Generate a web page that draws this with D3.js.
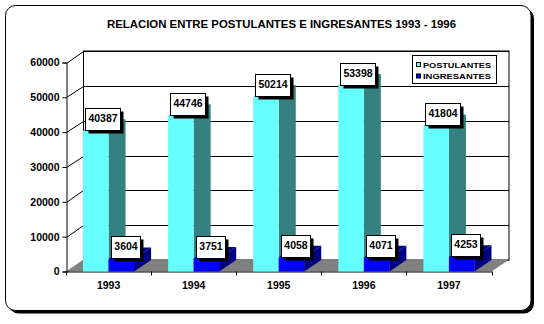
<!DOCTYPE html>
<html><head><meta charset="utf-8">
<script src="https://cdn.jsdelivr.net/npm/d3@7"></script>
<style>body{margin:0;background:#fff}svg{display:block}</style>
</head><body><svg id="c" width="544" height="324"></svg>
<script>
const years = ["1993","1994","1995","1996","1997"];
const postulantes = [40387,44746,50214,53398,41804];
const ingresantes = [3604,3751,4058,4071,4253];
const seriesNames = ["POSTULANTES","INGRESANTES"];
const yTicks = [0,10000,20000,30000,40000,50000,60000];
const title = "RELACION ENTRE POSTULANTES E INGRESANTES 1993 - 1996";

const frontColors = ["#66FFFF","#0000FF"];
const sideColors = ["#358080","#000080"];
const font = "'Liberation Sans', Arial, sans-serif";
const DX = 17, DY = -11.5;

const svg = d3.select("#c");
const x = d3.scaleBand().domain(years).range([66, 491.5]);
const xs = d3.scaleBand().domain(seriesNames).range([x.bandwidth()*0.2, x.bandwidth()*0.8]);
const y = d3.scaleLinear().domain([0,60000]).range([271.5, 62.5]);

// frame
svg.append("rect").attr("x",8.5).attr("y",8.5).attr("width",525.5).attr("height",305)
  .attr("rx",10).attr("fill","#000");
svg.append("rect").attr("x",5.5).attr("y",5.5).attr("width",525.5).attr("height",305)
  .attr("rx",10).attr("fill","#fff").attr("stroke","#000").attr("stroke-width",1);

// title
svg.append("text").attr("x",281.5).attr("y",27.5).attr("text-anchor","middle")
  .attr("font-family",font).attr("font-weight","bold").attr("font-size",11)
  .attr("textLength",349).attr("lengthAdjust","spacingAndGlyphs").text(title);

const g = svg.append("g");
const x0 = x.range()[0], x1 = x.range()[1];
// back wall
g.append("rect").attr("x",x0+DX+0.5).attr("y",y(60000)+DY).attr("width",x1-x0)
  .attr("height",y(0)-y(60000)).attr("fill","#fff").attr("stroke","#000");
// wall gridlines + side diagonals
yTicks.forEach(t=>{
  const yy = Math.round(y(t)+DY)+0.5;
  g.append("line").attr("x1",x0+DX+0.5).attr("x2",x1+DX+0.5).attr("y1",yy).attr("y2",yy)
    .attr("stroke","#000");
  g.append("line").attr("x1",x0+0.5).attr("y1",Math.round(y(t))+0.5)
    .attr("x2",x0+DX+0.5).attr("y2",yy).attr("stroke","#000");
});
// floor
g.append("polygon").attr("points",[[x0,y(0)],[x1,y(0)],[x1+DX,y(0)+DY],[x0+DX,y(0)+DY]].join(" "))
  .attr("fill","#808080");

// y axis (front)
const yAxis = d3.axisLeft(y).tickValues(yTicks).tickSize(4).tickPadding(3).tickFormat(d3.format("d"));
const ya = svg.append("g").attr("transform",`translate(${x0+0.5},0)`).call(yAxis);
ya.select(".domain").attr("stroke","#000");
ya.selectAll("text").attr("font-family",font).attr("font-weight","bold").attr("font-size",10.5).attr("fill","#000");

// x axis
const xAxis = d3.axisBottom(x).tickSize(0).tickPadding(10);
const xa = svg.append("g").attr("transform",`translate(0,${y(0)})`).call(xAxis);
xa.select(".domain").attr("stroke","#000");
xa.selectAll("text").attr("font-family",font).attr("font-weight","bold").attr("font-size",10.5).attr("fill","#000");
years.concat(["end"]).forEach((yr,i)=>{
  const xx = Math.round(x0 + i*x.bandwidth())+0.5;
  xa.append("line").attr("x1",xx).attr("x2",xx).attr("y1",0).attr("y2",4).attr("stroke","#000");
});

// bars
const bars = [];
years.forEach((yr,i)=>{
  [postulantes[i], ingresantes[i]].forEach((v,s)=>{
    const bx = x(yr) + xs(seriesNames[s]);
    const w = xs.bandwidth();
    const yt = y(v), yb = y(0);
    bars.push({bx,w,yt,v});
    const bg = svg.append("g");
    bg.append("polygon").attr("points",[[bx,yt],[bx+w,yt],[bx+w+DX,yt+DY],[bx+DX,yt+DY]].join(" "))
      .attr("fill",sideColors[s]);
    bg.append("polygon").attr("points",[[bx+w,yb],[bx+w,yt],[bx+w+DX,yt+DY],[bx+w+DX,yb+DY]].join(" "))
      .attr("fill",sideColors[s]);
    bg.append("rect").attr("x",bx).attr("y",yt).attr("width",w).attr("height",yb-yt)
      .attr("fill",frontColors[s]);
  });
});

// data labels
bars.forEach(b=>{
  const lg = svg.append("g");
  const t = lg.append("text").attr("font-family",font).attr("font-weight","bold")
    .attr("font-size",10.5).attr("text-anchor","middle").text(String(b.v));
  const tw = t.node().getComputedTextLength();
  const bw = Math.round(tw+6), bh = 22;
  const left = Math.round(b.bx+2)+0.5, top = Math.round(b.yt-0.5-bh)+0.5;
  lg.insert("rect","text").attr("x",left+3).attr("y",top+3).attr("width",bw).attr("height",bh).attr("fill","#000");
  lg.insert("rect","text").attr("x",left).attr("y",top).attr("width",bw).attr("height",bh)
    .attr("fill","#fff").attr("stroke","#000");
  t.attr("x",left+bw/2).attr("y",top+13.5);
});

// legend
const lgd = svg.append("g");
lgd.append("rect").attr("x",412.5).attr("y",55.5).attr("width",84).attr("height",28)
  .attr("fill","#fff").attr("stroke","#000");
seriesNames.forEach((n,i)=>{
  const yy = 62.5 + i*11.5;
  lgd.append("rect").attr("x",416.5).attr("y",yy).attr("width",4).attr("height",4)
    .attr("fill",frontColors[i]).attr("stroke","#000");
  lgd.append("text").attr("x",423).attr("y",yy+5).attr("font-family",font).attr("font-weight","bold")
    .attr("font-size",8).attr("textLength",68).attr("lengthAdjust","spacingAndGlyphs").text(n);
});
</script></body></html>
